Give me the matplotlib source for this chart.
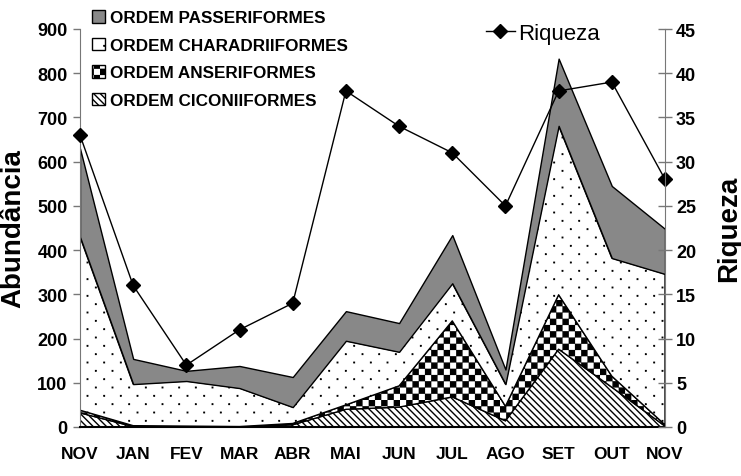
import numpy as np
import matplotlib
matplotlib.use('Agg')
import matplotlib.pyplot as plt
from matplotlib import hatch as mhatch
from matplotlib.path import Path

# ---------------- data ----------------
months = ['NOV', 'JAN', 'FEV', 'MAR', 'ABR', 'MAI', 'JUN', 'JUL', 'AGO', 'SET', 'OUT', 'NOV']
ciconiiformes = [32, 1, 1, 0, 5, 40, 45, 68, 14, 176, 90, 2]
anseriformes = [6, 2, 1, 1, 3, 10, 48, 172, 33, 123, 25, 3]
charadriiformes = [392, 94, 102, 87, 37, 145, 77, 85, 50, 382, 267, 341]
passeriformes = [200, 57, 23, 50, 68, 67, 65, 109, 33, 152, 163, 102]
riqueza = [33, 16, 7, 11, 14, 38, 34, 31, 25, 38, 39, 28]

left_ticks = list(range(0, 901, 100))
right_ticks = list(range(0, 46, 5))


# ---------------- custom fill patterns (checker / dots) ----------------
class _Squares(mhatch.HatchPatternBase):
    char = None

    def __init__(self, hatch, density):
        self.squares = self.make() if (self.char and self.char in hatch) else []
        self.num_vertices = 5 * len(self.squares)

    def make(self):
        return []

    def set_vertices_and_codes(self, vertices, codes):
        for k, (x0, y0, w, h) in enumerate(self.squares):
            vertices[5 * k:5 * k + 5] = [(x0, y0), (x0 + w, y0), (x0 + w, y0 + h),
                                         (x0, y0 + h), (x0, y0)]
            codes[5 * k:5 * k + 5] = [Path.MOVETO, Path.LINETO, Path.LINETO,
                                      Path.LINETO, Path.CLOSEPOLY]


class _Checker(_Squares):
    char = 'O'

    def make(self):
        n, e = 16, 0.006
        return [(i / n + e, j / n + e, 1 / n - 2 * e, 1 / n - 2 * e)
                for i in range(n) for j in range(n) if (i + j) % 2 == 0]


class _Dots(_Squares):
    char = 'o'

    def make(self):
        rows, cols, s = 12, 6, 0.005
        out = []
        for r in range(rows):
            for c in range(cols):
                xx = (c + 0.25 + 0.5 * (r % 2)) / cols
                yy = (r + 0.5) / rows
                out.append((xx - s / 2, yy - s / 2, s, s))
        return out


mhatch._hatch_types = [t for t in mhatch._hatch_types
                       if t not in (mhatch.LargeCircles, mhatch.SmallCircles)] + [_Checker, _Dots]

plt.rcParams['font.family'] = ['Liberation Sans', 'DejaVu Sans']
plt.rcParams['hatch.linewidth'] = 1.0

fig = plt.figure(figsize=(7.41, 4.77), dpi=100)
ax = fig.add_axes([80 / 741, 49 / 477, 585 / 741, 398 / 477])

x = np.arange(len(months))
c1 = np.array(ciconiiformes)
c2 = c1 + np.array(anseriformes)
c3 = c2 + np.array(charadriiformes)
c4 = c3 + np.array(passeriformes)

h_cic = ax.fill_between(x, 0, c1, facecolor='white', edgecolor='black', hatch='\\' * 5,
                        lw=1.0, label='ORDEM CICONIIFORMES')
h_ans = ax.fill_between(x, c1, c2, facecolor='white', edgecolor='black', hatch='O',
                        lw=1.0, label='ORDEM ANSERIFORMES')
h_cha = ax.fill_between(x, c2, c3, facecolor='white', edgecolor='black', hatch='o',
                        lw=1.0, label='ORDEM CHARADRIIFORMES')
h_pas = ax.fill_between(x, c3, c4, facecolor='#888888', edgecolor='black',
                        lw=1.0, label='ORDEM PASSERIFORMES')

ax.set_xlim(0, len(months) - 1)
ax.set_ylim(0, 900)
ax.set_yticks(left_ticks)
ax.set_xticks(x)
ax.set_xticklabels(months)

for s in ['top', 'right']:
    ax.spines[s].set_visible(False)
ax.spines['left'].set_color('#777777')
ax.spines['bottom'].set_color('black')
ax.spines['bottom'].set_linewidth(1.5)
ax.tick_params(axis='y', direction='out', length=5, width=1, color='#777777',
               labelsize=13, pad=4)
ax.tick_params(axis='x', length=0, labelsize=12.5, pad=14)
for lab in ax.get_xticklabels() + ax.get_yticklabels():
    lab.set_fontweight('bold')

ax.set_ylabel('Abundância', fontsize=20, fontweight='bold')
ax.yaxis.set_label_coords(-0.092, 0.5)

ax2 = ax.twinx()
ax2.set_ylim(0, 45)
ax2.set_yticks(right_ticks)
for s in ['top', 'left', 'bottom']:
    ax2.spines[s].set_visible(False)
ax2.spines['right'].set_color('#777777')
ax2.tick_params(axis='y', direction='inout', length=10, width=1, color='#777777',
                labelsize=13, pad=3)
for lab in ax2.get_yticklabels():
    lab.set_fontweight('bold')
ax2.plot(x, riqueza, color='black', lw=1.0, marker='D', markersize=7,
         markerfacecolor='black', markeredgecolor='black', label='Riqueza', clip_on=False)
ax2.set_ylabel('Riqueza', fontsize=20, fontweight='bold', rotation=90)
ax2.yaxis.set_label_coords(1.088, 0.5)

leg = fig.legend(handles=[h_pas, h_cha, h_ans, h_cic], loc='upper left',
                 bbox_to_anchor=(92 / 741, 1 - 11 / 477), frameon=False,
                 prop={'weight': 'bold', 'size': 12.3},
                 handlelength=0.75, handleheight=0.75, handletextpad=0.3,
                 labelspacing=0.72, borderpad=0, borderaxespad=0)

leg2 = fig.legend(handles=ax2.get_lines(), loc='upper left',
                  bbox_to_anchor=(486 / 741, 1 - 24 / 477), frameon=False,
                  prop={'size': 16}, handlelength=1.3, handletextpad=0.15,
                  borderpad=0, borderaxespad=0)

fig.savefig('out.png', dpi=100)
